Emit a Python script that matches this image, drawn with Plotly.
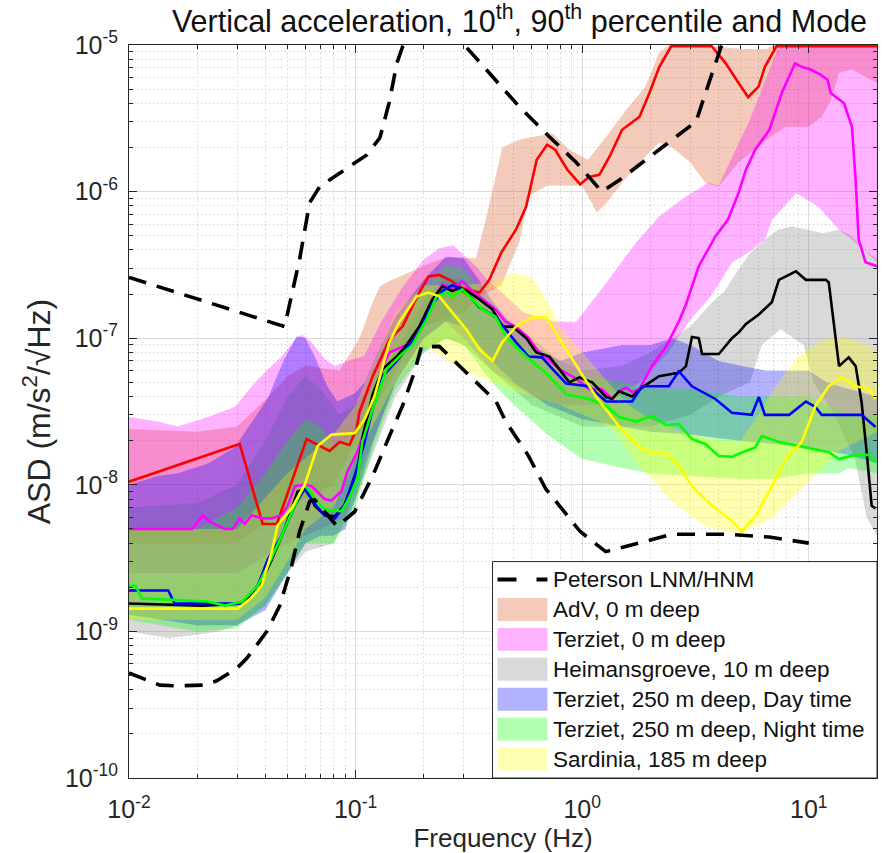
import math
import plotly.graph_objects as go

# ---------------- data (frequency in Hz, ASD in m/s^2/sqrt(Hz)) ----------------
# Peterson high / low noise models
hnm_f = [0.01, 0.0486, 0.0566, 0.0627, 0.0694, 0.097, 0.112, 0.128, 0.141, 0.152, 0.161,
         0.2, 0.25, 0.302, 0.352, 0.527, 0.716, 0.942, 1.22, 1.46, 2.25, 3.18, 3.5, 4.1, 5.0]
hnm_v = [2.6e-7, 1.2e-7, 3.45e-7, 8.4e-7, 1.08e-6, 1.53e-6, 1.78e-6, 2.33e-6, 4.1e-6, 7.5e-6, 9.7e-6,
         1.6e-5, 1.6e-5, 1.0e-5, 7.7e-6, 3.8e-6, 2.37e-6, 1.58e-6, 1.0e-6, 1.2e-6, 2.0e-6, 3.0e-6, 4.7e-6, 9.7e-6, 2.0e-5]
lnm_f = [0.01, 0.0137, 0.0163, 0.0212, 0.0244, 0.0299, 0.0331, 0.0406, 0.0463, 0.0522, 0.0566, 0.0627,
         0.066, 0.083, 0.099, 0.107, 0.119, 0.141, 0.161, 0.182, 0.195, 0.234, 0.268, 0.308, 0.417,
         0.46, 0.58, 0.69, 0.79, 0.98, 1.27, 1.72, 2.5, 4.4, 6.7, 10.0]
lnm_v = [5.2e-10, 4.3e-10, 4.25e-10, 4.3e-10, 4.6e-10, 5.6e-10, 6.55e-10, 1.0e-9, 1.5e-9, 2.8e-9, 4.8e-9, 7.7e-9,
         7.9e-9, 5.2e-9, 6.55e-9, 8.4e-9, 1.15e-8, 2.15e-8, 3.45e-8, 5.9e-8, 8.7e-8, 8.8e-8, 7.2e-8, 5.9e-8, 3.7e-8,
         2.7e-8, 1.57e-8, 9.4e-9, 7.2e-9, 4.8e-9, 3.5e-9, 3.97e-9, 4.6e-9, 4.6e-9, 4.4e-9, 4.0e-9]

# AdV, 0 m deep
adv_up_f = [0.01, 0.02, 0.03, 0.04, 0.05, 0.06, 0.085, 0.104, 0.119, 0.128, 0.145, 0.218, 0.26, 0.34,
            0.38, 0.444, 0.527, 0.738, 0.877, 1.06, 1.276, 1.56, 1.9, 2.18, 2.5, 5.0, 6.5, 7.5, 20]
adv_up = [2.4e-8, 2.3e-8, 2.5e-8, 3.8e-8, 5.5e-8, 6.5e-8, 6.0e-8, 1.0e-7, 1.76e-7, 2.26e-7, 2.5e-7, 3.3e-7, 3.6e-7, 3.5e-7,
          7.0e-7, 2.0e-6, 2.26e-6, 2.5e-6, 1.93e-6, 1.65e-6, 2.37e-6, 3.6e-6, 5.2e-6, 8.8e-6, 1.05e-5, 9.4e-6, 9.4e-6, 1.05e-5, 1.05e-5]
adv_lo_f = [0.01, 0.03, 0.05, 0.08, 0.1, 0.15, 0.2, 0.3, 0.35, 0.44, 0.53, 0.58, 0.7, 1.0, 1.16, 1.3, 1.5,
            1.79, 2.18, 2.5, 3.0, 3.5, 4.0, 4.9, 6.5, 7.9, 10, 11.4, 12.5, 13.6, 15.5, 20]
adv_lo = [4e-9, 4e-9, 7e-9, 1e-8, 2e-8, 6e-8, 1.2e-7, 1.5e-7, 1.9e-7, 2.3e-7, 4.6e-7, 9.3e-7, 1.1e-6, 1.1e-6, 7.2e-7, 8.6e-7, 1.15e-6,
          1.58e-6, 2.15e-6, 2.0e-6, 1.58e-6, 1.15e-6, 1.08e-6, 1.58e-6, 2.26e-6, 2.77e-6, 2.77e-6, 3.24e-6, 4.2e-6, 6.45e-6, 6.8e-6, 5.5e-6]
adv_mode_f = [0.01, 0.0308, 0.0389, 0.0449, 0.0608, 0.0767, 0.085, 0.094, 0.101, 0.104, 0.119, 0.141, 0.161, 0.191,
              0.21, 0.234, 0.26, 0.296, 0.352, 0.389, 0.44, 0.51, 0.566, 0.63, 0.70, 0.76, 0.86, 0.98, 1.07, 1.19,
              1.32, 1.5, 1.79, 1.98, 2.19, 2.47, 3.73, 4.3, 4.9, 5.4, 6.0, 6.4, 7.2, 20]
adv_mode = [1.05e-8, 1.9e-8, 5.4e-9, 5.4e-9, 2.05e-8, 1.7e-8, 1.96e-8, 1.87e-8, 2.4e-8, 3.14e-8, 5.5e-8, 9.8e-8, 1.2e-7, 2.05e-7,
            2.64e-7, 2.7e-7, 2.5e-7, 2.2e-7, 2.05e-7, 2.5e-7, 3.85e-7, 5.5e-7, 7.9e-7, 1.65e-6, 2.09e-6, 1.93e-6, 1.41e-6, 1.12e-6, 1.26e-6, 1.3e-6,
            1.73e-6, 2.64e-6, 3.24e-6, 4.7e-6, 7.1e-6, 9.8e-6, 9.8e-6, 7.5e-6, 5.5e-6, 4.4e-6, 5.2e-6, 7.1e-6, 9.8e-6, 9.8e-6]

# Terziet, 0 m deep
tz0_up_f = [0.01, 0.0134, 0.0164, 0.0223, 0.0293, 0.0348, 0.041, 0.0472, 0.054, 0.058, 0.064, 0.073, 0.081, 0.092,
            0.109, 0.13, 0.16, 0.2, 0.234, 0.27, 0.3, 0.35, 0.38, 0.45, 0.55, 0.75, 0.94, 1.28, 1.73, 2.18, 2.87,
            3.6, 4.0, 5.5, 7.4, 7.6, 20]
tz0_up = [2.9e-8, 2.7e-8, 2.5e-8, 2.9e-8, 3.4e-8, 4.7e-8, 6.15e-8, 7.5e-8, 9.8e-8, 1.06e-7, 9.4e-8, 7.2e-8, 6.45e-8, 7.0e-8,
          7.55e-8, 1.3e-7, 2.2e-7, 3.45e-7, 4.1e-7, 4.3e-7, 3.7e-7, 2.95e-7, 2.5e-7, 2.0e-7, 1.5e-7, 1.3e-7, 1.29e-7, 2.4e-7, 4.5e-7, 6.75e-7, 9.25e-7,
          1.15e-6, 1.1e-6, 3.1e-6, 1.0e-5, 1.05e-5, 1.05e-5]
tz0_lo_f = [0.01, 0.03, 0.05, 0.07, 0.09, 0.1, 0.15, 0.2, 0.25, 0.3, 0.4, 0.6, 0.8, 1.2, 1.8, 2.4, 2.96, 3.7,
            4.6, 5.5, 6.4, 6.9, 8.8, 11.0, 13.6, 15.5, 20]
tz0_lo = [2.5e-9, 2.5e-9, 4e-9, 5e-9, 6e-9, 1e-8, 5e-8, 1.0e-7, 1.3e-7, 1.0e-7, 6e-8, 4e-8, 3.5e-8, 3.5e-8, 5e-8, 8e-8, 1.3e-7, 1.93e-7,
          3.3e-7, 3.9e-7, 4.7e-7, 6.45e-7, 9.8e-7, 7.9e-7, 5.5e-7, 4.7e-7, 3.3e-7]
tz0_mode_f = [0.01, 0.019, 0.0212, 0.0227, 0.0265, 0.0287, 0.0308, 0.0324, 0.0348, 0.0385, 0.0427, 0.0472, 0.0502,
              0.054, 0.0596, 0.064, 0.073, 0.078, 0.0865, 0.092, 0.102, 0.118, 0.1315, 0.141, 0.168, 0.191, 0.21,
              0.242, 0.267, 0.296, 0.328, 0.376, 0.415, 0.46, 0.51, 0.58, 0.64, 0.69, 0.792, 0.94, 1.07, 1.22,
              1.356, 1.456, 1.56, 1.66, 1.79, 2.03, 2.35, 2.67, 2.87, 3.27, 3.87, 4.4, 4.9, 5.28, 5.8, 6.7, 7.6,
              8.7, 9.3, 10.2, 11.3, 12.1, 12.5, 14.3, 15.5, 16.1, 16.6, 17.8, 20]
tz0_mode = [5.0e-9, 5.0e-9, 6.2e-9, 5.6e-9, 5.0e-9, 5.0e-9, 5.9e-9, 5.4e-9, 6.2e-9, 5.9e-9, 5.9e-9, 6.2e-9, 7.2e-9,
            9.8e-9, 1.0e-8, 9.8e-9, 8.0e-9, 7.8e-9, 9.0e-9, 1.23e-8, 1.68e-8, 3.5e-8, 6.4e-8, 8.0e-8, 9.0e-8, 1.15e-7, 1.65e-7,
            2.33e-7, 2.2e-7, 2.44e-7, 2.1e-7, 1.76e-7, 1.57e-7, 1.29e-7, 1.2e-7, 1.0e-7, 8.1e-8, 7.5e-8, 6.15e-8, 5.3e-8, 4.5e-8, 4.5e-8,
            3.85e-8, 4.35e-8, 4.6e-8, 4.3e-8, 4.5e-8, 6.45e-8, 8.8e-8, 1.3e-7, 1.7e-7, 3.1e-7, 4.95e-7, 6.45e-7, 9.8e-7, 1.41e-6, 1.93e-6, 2.64e-6, 4.7e-6,
            7.5e-6, 7.1e-6, 6.8e-6, 6.25e-6, 5.8e-6, 4.7e-6, 4.0e-6, 2.77e-6, 1.2e-6, 4.7e-7, 3.3e-7, 3.1e-7]

# Heimansgroeve, 10 m deep
hei_up_f = [0.01, 0.02, 0.03, 0.04, 0.05, 0.06, 0.07, 0.085, 0.1, 0.15, 0.2, 0.25, 0.3, 0.4, 0.6, 0.8, 1.0, 1.5,
            2.0, 2.5, 3.0, 3.75, 4.2, 4.9, 5.5, 6.4, 7.3, 8.5, 11.5, 13.6, 15.5, 17.8, 20]
hei_up = [7e-9, 7.5e-9, 1.0e-8, 2.0e-8, 4.0e-8, 5.5e-8, 4.5e-8, 3.0e-8, 3.5e-8, 8e-8, 1.8e-7, 2.6e-7, 2.5e-7, 1.6e-7, 1.0e-7, 7e-8, 6e-8, 6.5e-8,
          8e-8, 1.0e-7, 1.2e-7, 1.76e-7, 2.05e-7, 2.95e-7, 3.8e-7, 4.7e-7, 5.5e-7, 5.8e-7, 5.2e-7, 5.5e-7, 5.0e-7, 3.9e-7, 3.5e-7]
hei_lo_f = [0.01, 0.015, 0.02, 0.025, 0.03, 0.04, 0.05, 0.06, 0.08, 0.1, 0.15, 0.2, 0.25, 0.3, 0.4, 0.6, 1.0,
            2.0, 3.0, 4.0, 5.5, 6.2, 7.5, 9.5, 10.5, 13, 16, 18, 20]
hei_lo = [1.0e-9, 9e-10, 9.5e-10, 1.0e-9, 1.1e-9, 1.5e-9, 2.5e-9, 3.5e-9, 4e-9, 8e-9, 4e-8, 8e-8, 1.0e-7, 9e-8, 6e-8, 3.5e-8, 2.5e-8,
          2.5e-8, 3e-8, 4e-8, 5e-8, 9e-8, 1.15e-7, 9e-8, 5e-8, 3e-8, 1.5e-8, 6e-9, 4.5e-9]
hei_mode_f = [0.01, 0.021, 0.0318, 0.0385, 0.0427, 0.0486, 0.0555, 0.061, 0.066, 0.073, 0.081, 0.089, 0.094, 0.102,
              0.108, 0.119, 0.1315, 0.152, 0.168, 0.191, 0.218, 0.242, 0.267, 0.287, 0.318, 0.352, 0.402, 0.444,
              0.492, 0.567, 0.627, 0.716, 0.792, 0.877, 0.97, 1.107, 1.276, 1.356, 1.456, 1.66, 1.837, 2.18, 2.67,
              2.87, 3.05, 3.27, 3.38, 4.01, 4.58, 4.92, 5.28, 6.02, 6.87, 7.38, 8.77, 9.71, 11.9, 12.25, 13.6, 15.0,
              16.1, 17.1, 18.0, 18.95, 19.7]
hei_mode = [1.55e-9, 1.5e-9, 1.55e-9, 2.2e-9, 3.1e-9, 5.0e-9, 9.0e-9, 9.4e-9, 7.2e-9, 6.2e-9, 6.1e-9, 7.2e-9, 9.0e-9, 1.3e-8,
            2.2e-8, 4.15e-8, 6.15e-8, 7.5e-8, 9.0e-8, 1.2e-7, 1.84e-7, 2.26e-7, 2.1e-7, 2.2e-7, 2.05e-7, 1.84e-7, 1.57e-7, 1.2e-7,
            1.2e-7, 1.0e-7, 8.0e-8, 7.5e-8, 6.15e-8, 5.0e-8, 5.4e-8, 5.0e-8, 3.97e-8, 3.85e-8, 4.35e-8, 4.0e-8, 4.6e-8, 5.5e-8, 5.8e-8,
            6.45e-8, 1.02e-7, 1.0e-7, 7.8e-8, 7.8e-8, 1.0e-7, 1.1e-7, 1.25e-7, 1.45e-7, 1.76e-7, 2.5e-7, 2.86e-7, 2.5e-7, 2.5e-7, 2.4e-7, 6.45e-8, 7.4e-8,
            6.45e-8, 3.67e-8, 1.68e-8, 7.2e-9, 6.9e-9]

# Terziet, 250 m deep, day time
day_up_f = [0.01, 0.0134, 0.0164, 0.0223, 0.0293, 0.035, 0.041, 0.048, 0.055, 0.06, 0.066, 0.075, 0.083, 0.099,
            0.11, 0.13, 0.15, 0.2, 0.25, 0.3, 0.35, 0.4, 0.5, 0.6, 0.8, 1.0, 1.5, 2.0, 2.5, 3.0, 4.0, 5.0, 6.5, 8,
            10, 12, 15, 20]
day_up = [1.0e-8, 1.15e-8, 1.2e-8, 1.4e-8, 1.8e-8, 2.7e-8, 3.9e-8, 7e-8, 1.03e-7, 1.0e-7, 7.5e-8, 4.7e-8, 3.7e-8, 4.2e-8,
          5e-8, 9e-8, 1.4e-7, 2.5e-7, 3.6e-7, 3.5e-7, 2.5e-7, 1.8e-7, 1.2e-7, 9e-8, 7e-8, 8e-8, 9e-8, 9e-8, 1.0e-7, 9e-8, 7e-8, 6.5e-8, 6e-8, 6e-8,
          6e-8, 5e-8, 4.5e-8, 4e-8]
day_lo_f = [0.01, 0.02, 0.03, 0.04, 0.05, 0.06, 0.07, 0.08, 0.09, 0.1, 0.12, 0.15, 0.2, 0.25, 0.3, 0.4, 0.5, 0.7,
            1.0, 1.5, 2, 3, 5, 7, 10, 15, 20]
day_lo = [1.3e-9, 1.1e-9, 1.1e-9, 1.4e-9, 2.5e-9, 4e-9, 4.5e-9, 4.5e-9, 5e-9, 8e-9, 2e-8, 5e-8, 1.0e-7, 1.3e-7, 1.2e-7, 7e-8, 5e-8, 3.5e-8,
          2.8e-8, 2.5e-8, 2.3e-8, 2.2e-8, 2e-8, 1.9e-8, 1.8e-8, 1.6e-8, 1.4e-8]
day_mode_f = [0.01, 0.0149, 0.0159, 0.0315, 0.0334, 0.037, 0.041, 0.0472, 0.0539, 0.0596, 0.066, 0.073, 0.081, 0.0895,
              0.099, 0.108, 0.119, 0.1315, 0.152, 0.168, 0.191, 0.218, 0.242, 0.267, 0.287, 0.318, 0.352, 0.415,
              0.51, 0.58, 0.665, 0.74, 0.85, 1.07, 1.276, 1.66, 1.837, 2.41, 2.67, 3.05, 3.87, 4.58, 5.6, 6.02, 6.4,
              8.2, 9.71, 10.7, 11.4, 17.1, 19.7]
day_mode = [1.9e-9, 1.9e-9, 1.55e-9, 1.55e-9, 1.7e-9, 2.05e-9, 3.1e-9, 4.5e-9, 7.2e-9, 9.4e-9, 7.4e-9, 6.2e-9, 5.9e-9, 7.2e-9,
            1.15e-8, 1.8e-8, 3.3e-8, 5.5e-8, 7.0e-8, 8.5e-8, 1.1e-7, 1.7e-7, 2.1e-7, 2.3e-7, 2.2e-7, 1.95e-7, 1.62e-7, 1.4e-7,
            9.4e-8, 7.5e-8, 7.4e-8, 6.15e-8, 4.9e-8, 4.7e-8, 3.7e-8, 3.7e-8, 4.7e-8, 4.7e-8, 5.95e-8, 4.7e-8, 3.85e-8, 3.1e-8, 3.0e-8, 3.97e-8, 3.0e-8,
            3.0e-8, 3.7e-8, 3.4e-8, 3.0e-8, 3.0e-8, 2.48e-8]

# Terziet, 250 m deep, night time
ngt_up_f = [0.01, 0.02, 0.03, 0.04, 0.05, 0.06, 0.07, 0.08, 0.1, 0.12, 0.15, 0.2, 0.25, 0.3, 0.35, 0.4, 0.5, 0.7,
            1.0, 1.5, 2, 3, 5, 7, 10, 15, 20]
ngt_up = [5e-9, 5e-9, 7e-9, 1.2e-8, 2e-8, 2.8e-8, 2.5e-8, 1.8e-8, 2.2e-8, 5e-8, 1e-7, 2.2e-7, 3.2e-7, 3e-7, 2.2e-7, 1.5e-7, 1.0e-7, 7e-8,
          5.5e-8, 5e-8, 4.5e-8, 4.5e-8, 4e-8, 4e-8, 4e-8, 3e-8, 3e-8]
ngt_lo_f = [0.01, 0.02, 0.03, 0.04, 0.05, 0.06, 0.08, 0.1, 0.12, 0.15, 0.2, 0.25, 0.3, 0.4, 0.5, 0.7, 1.0, 1.5,
            2, 3, 5, 7, 10, 13.6, 15, 20]
ngt_lo = [1.2e-9, 1.0e-9, 1.05e-9, 1.5e-9, 2.5e-9, 4e-9, 4e-9, 7e-9, 1.8e-8, 4.5e-8, 8e-8, 1.0e-7, 9e-8, 5e-8, 3.5e-8, 2.2e-8, 1.5e-8, 1.3e-8,
          1.2e-8, 1.15e-8, 1.1e-8, 1.1e-8, 1.2e-8, 1.2e-8, 1.3e-8, 1.2e-8]
ngt_mode_f = [0.01, 0.0107, 0.0114, 0.0223, 0.0265, 0.0315, 0.037, 0.041, 0.0472, 0.0522, 0.0596, 0.066, 0.073, 0.0865,
              0.092, 0.102, 0.107, 0.119, 0.137, 0.156, 0.178, 0.206, 0.228, 0.252, 0.267, 0.296, 0.328, 0.362,
              0.415, 0.46, 0.567, 0.69, 0.85, 1.07, 1.28, 1.456, 1.73, 2.03, 2.35, 2.67, 3.05, 3.5, 4.0, 4.58, 5.0,
              5.8, 6.2, 7.4, 9.7, 12.25, 13.6, 16.1, 18.4, 19.7]
ngt_mode = [2.05e-9, 2.05e-9, 1.68e-9, 1.6e-9, 1.5e-9, 1.6e-9, 2.05e-9, 2.8e-9, 4.5e-9, 6.5e-9, 1.0e-8, 8.0e-9, 6.8e-9, 6.6e-9,
            7.7e-9, 1.1e-8, 1.96e-8, 3.3e-8, 6.15e-8, 7.5e-8, 9.0e-8, 1.35e-7, 1.93e-7, 2.05e-7, 1.93e-7, 2.15e-7, 1.84e-7, 1.57e-7,
            1.4e-7, 1.03e-7, 7.5e-8, 5.8e-8, 4.15e-8, 3.85e-8, 3.45e-8, 2.9e-8, 2.7e-8, 2.95e-8, 2.55e-8, 2.6e-8, 2.05e-8, 1.9e-8, 1.57e-8, 1.55e-8, 1.65e-8,
            1.8e-8, 2.15e-8, 1.96e-8, 1.8e-8, 1.67e-8, 1.5e-8, 1.6e-8, 1.6e-8, 1.43e-8]

# Sardinia, 185 m deep
sar_up_f = [0.01, 0.03, 0.05, 0.08, 0.1, 0.15, 0.2, 0.3, 0.4, 0.5, 0.6, 0.7, 0.8, 1.0, 1.3, 1.6, 2.0, 3.0, 4.0,
            5.0, 6.0, 7.0, 8.0, 9.0, 10, 12, 15, 18, 20]
sar_up = [5e-9, 5e-9, 1.2e-8, 2.2e-8, 3.5e-8, 1.5e-7, 2.3e-7, 2.3e-7, 2.4e-7, 2.8e-7, 2.6e-7, 1.8e-7, 1.2e-7, 8e-8, 5e-8, 3.5e-8, 2.8e-8, 2.2e-8, 2.0e-8,
          2.0e-8, 3e-8, 4.5e-8, 6e-8, 7.5e-8, 8.5e-8, 1.0e-7, 1.0e-7, 9e-8, 8e-8]
sar_lo_f = [0.01, 0.03, 0.04, 0.05, 0.06, 0.08, 0.1, 0.15, 0.2, 0.3, 0.4, 0.6, 0.8, 1.0, 1.2, 1.4, 1.73, 2.5,
            3.5, 4.9, 6.9, 9.7, 13.6, 20]
sar_lo = [1.2e-9, 1.2e-9, 1.7e-9, 3e-9, 5e-9, 7e-9, 1.5e-8, 5e-8, 9e-8, 6e-8, 5e-8, 4e-8, 3.5e-8, 3e-8, 2.7e-8, 2.3e-8, 1.43e-8, 7.6e-9,
          5.2e-9, 4.6e-9, 5.9e-9, 1e-8, 1.7e-8, 2.3e-8]
sar_mode_f = [0.01, 0.0302, 0.0348, 0.0385, 0.0427, 0.0453, 0.0522, 0.0596, 0.068, 0.0784, 0.099, 0.1096, 0.121,
              0.141, 0.156, 0.186, 0.21, 0.234, 0.267, 0.308, 0.352, 0.402, 0.444, 0.51, 0.603, 0.694, 0.76, 0.79,
              0.94, 1.15, 1.456, 1.84, 2.03, 2.35, 2.67, 3.05, 3.74, 4.45, 5.07, 5.85, 6.87, 7.9, 9.3, 10.7, 12.25,
              14.0, 16.1, 18.4, 19.7]
sar_mode = [1.43e-9, 1.43e-9, 1.7e-9, 2.05e-9, 3.5e-9, 5.3e-9, 6.9e-9, 1.0e-8, 1.84e-8, 2.2e-8, 2.25e-8, 2.8e-8, 4.0e-8,
            9.4e-8, 1.29e-7, 1.93e-7, 2.05e-7, 1.93e-7, 1.5e-7, 1.15e-7, 8.4e-8, 7.0e-8, 9.4e-8, 1.2e-7, 1.39e-7, 1.39e-7, 1.1e-7, 1.0e-7,
            6.45e-8, 4.0e-8, 2.5e-8, 1.76e-8, 1.65e-8, 1.65e-8, 1.35e-8, 9.8e-9, 7.2e-9, 5.9e-9, 4.8e-9, 6.2e-9, 9.8e-9, 1.5e-8, 1.96e-8, 3.45e-8, 4.7e-8,
            5.4e-8, 4.7e-8, 4.5e-8, 3.85e-8]

legend_labels = ["Peterson LNM/HNM", "AdV, 0 m deep", "Terziet, 0 m deep", "Heimansgroeve, 10 m deep",
                 "Terziet, 250 m deep, Day time", "Terziet, 250 m deep, Night time", "Sardinia, 185 m deep"]
x_tick_vals = [0.01, 0.1, 1, 10]
x_tick_text = ["10<sup>-2</sup>", "10<sup>-1</sup>", "10<sup>0</sup>", "10<sup>1</sup>"]
y_tick_vals = [1e-10, 1e-9, 1e-8, 1e-7, 1e-6, 1e-5]
y_tick_text = ["10<sup>-10</sup>", "10<sup>-9</sup>", "10<sup>-8</sup>", "10<sup>-7</sup>", "10<sup>-6</sup>", "10<sup>-5</sup>"]

# ---------------- styling ----------------
W, H = 886, 853
ML, MR, MT, MB = 129, 8, 45, 73
FONT = "Liberation Sans, Arial, Helvetica, sans-serif"
AX = "#262626"

bands = [
    (adv_up_f, adv_up, adv_lo_f, adv_lo, "rgba(217,83,25,0.3)"),
    (tz0_up_f, tz0_up, tz0_lo_f, tz0_lo, "rgba(255,0,255,0.3)"),
    (hei_up_f, hei_up, hei_lo_f, hei_lo, "rgba(128,128,128,0.3)"),
    (day_up_f, day_up, day_lo_f, day_lo, "rgba(0,0,255,0.3)"),
    (ngt_up_f, ngt_up, ngt_lo_f, ngt_lo, "rgba(0,255,0,0.3)"),
    (sar_up_f, sar_up, sar_lo_f, sar_lo, "rgba(255,255,0,0.3)"),
]
modes = [
    (adv_mode_f, adv_mode, "#ff0000"),
    (tz0_mode_f, tz0_mode, "#ff00ff"),
    (hei_mode_f, hei_mode, "#000000"),
    (day_mode_f, day_mode, "#0000ff"),
    (ngt_mode_f, ngt_mode, "#00ff00"),
    (sar_mode_f, sar_mode, "#ffff00"),
]

fig = go.Figure()
for (uf, uv, lf, lv, col), name in zip(bands, legend_labels[1:]):
    fig.add_trace(go.Scatter(x=list(uf) + list(lf)[::-1], y=list(uv) + list(lv)[::-1],
                             fill="toself", fillcolor=col, line=dict(width=0), mode="lines",
                             name=name, showlegend=False, hoverinfo="skip"))
for f, v, col in modes:
    fig.add_trace(go.Scatter(x=f, y=v, mode="lines", line=dict(color=col, width=2.6),
                             showlegend=False, hoverinfo="skip"))
fig.add_trace(go.Scatter(x=hnm_f + [None] + lnm_f, y=hnm_v + [None] + lnm_v, mode="lines",
                         line=dict(color="black", width=3.6, dash="18px,11px"),
                         connectgaps=False, name=legend_labels[0], showlegend=False, hoverinfo="skip"))

# ---------------- legend (box, swatches, labels) ----------------
pw, ph = W - ML - MR, H - MT - MB
def px_x(p):
    return (p - ML) / pw
def px_y(p):
    return (H - MB - p) / ph

shapes = [dict(type="rect", xref="paper", yref="paper", x0=px_x(493), x1=1.0, y0=0.0, y1=px_y(563),
               fillcolor="white", line=dict(color=AX, width=1), layer="above")]
annotations = []
row0, step = 581, 30
for i, lab in enumerate(legend_labels):
    cy = row0 + step * i
    if i == 0:
        shapes.append(dict(type="line", xref="paper", yref="paper", x0=px_x(498), x1=px_x(548),
                           y0=px_y(cy), y1=px_y(cy), line=dict(color="black", width=4, dash="19px,20px"),
                           layer="above"))
    else:
        col = bands[i - 1][4]
        shapes.append(dict(type="rect", xref="paper", yref="paper", x0=px_x(498), x1=px_x(548),
                           y0=px_y(cy + 11.5), y1=px_y(cy - 11.5), fillcolor=col, line=dict(width=0),
                           layer="above"))
    annotations.append(dict(text=lab, xref="paper", yref="paper", x=px_x(552), y=px_y(cy),
                            xanchor="left", yanchor="middle", showarrow=False,
                            font=dict(family=FONT, size=22.5, color="#111111")))

minor_vals = [m * 10.0 ** e for e in range(-2, 2) for m in range(2, 10)]
minor_vals_y = [m * 10.0 ** e for e in range(-10, -5) for m in range(2, 10)]

fig.update_layout(
    width=W, height=H, margin=dict(l=ML, r=MR, t=MT, b=MB),
    paper_bgcolor="white", plot_bgcolor="white",
    font=dict(family=FONT, color="#262626"),
    showlegend=False,
    title=dict(text="Vertical acceleration, 10<sup>th</sup>, 90<sup>th</sup> percentile and Mode",
               xref="paper", x=(520 - ML) / pw, xanchor="center",
               yref="container", y=1 - 21 / H, yanchor="middle",
               font=dict(family=FONT, size=30.5, color="#111111")),
    xaxis=dict(type="log", range=[-2, math.log10(20)], tickvals=x_tick_vals, ticktext=x_tick_text,
               ticks="inside", ticklen=8, tickcolor=AX, showline=True, linecolor=AX, linewidth=1,
               mirror="ticks", showgrid=True, gridcolor="#dcdcdc", gridwidth=1, zeroline=False,
               tickfont=dict(size=25, color="#262626"), ticklabelstandoff=9,
               minor=dict(tickmode="array", tickvals=minor_vals, ticks="inside", ticklen=4, tickcolor=AX,
                          showgrid=True, gridcolor="#c4c4c4", griddash="1px,3px", gridwidth=1),
               title=dict(text="Frequency (Hz)", font=dict(size=26, color="#262626"), standoff=4)),
    yaxis=dict(type="log", range=[-10, -5], tickvals=y_tick_vals, ticktext=y_tick_text,
               ticks="inside", ticklen=8, tickcolor=AX, showline=True, linecolor=AX, linewidth=1,
               mirror="ticks", showgrid=True, gridcolor="#dcdcdc", gridwidth=1, zeroline=False,
               tickfont=dict(size=25, color="#262626"), ticklabelstandoff=5,
               minor=dict(tickmode="array", tickvals=minor_vals_y, ticks="inside", ticklen=4, tickcolor=AX,
                          showgrid=True, gridcolor="#c4c4c4", griddash="1px,3px", gridwidth=1),
               title=dict(text="ASD (m/s<sup>2</sup>/\u221aHz)", font=dict(size=32, color="#262626"), standoff=4)),
    shapes=shapes, annotations=annotations,
)

fig.write_html("out.html")
